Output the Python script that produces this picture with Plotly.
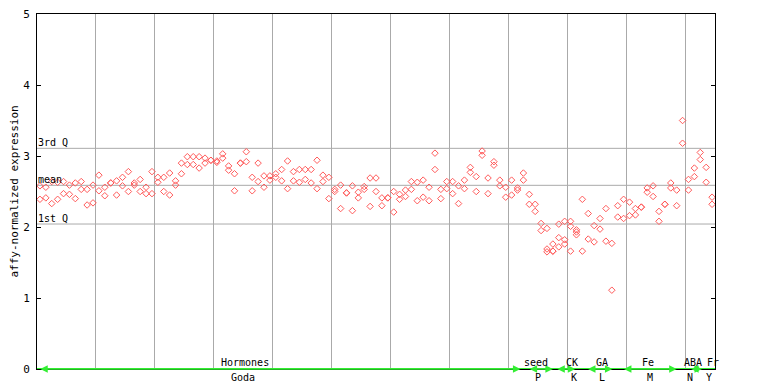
import plotly.graph_objects as go

# expression values per sample (two replicates, a third for some)
rep1 = [2.58, 2.56, 2.64, 2.63, 2.64, 2.59, 2.62, 2.64, 2.53, 2.59,
        2.73, 2.56, 2.62, 2.65, 2.70, 2.78, 2.62, 2.67, 2.56, 2.78,
        2.70, 2.70, 2.76, 2.65, 2.90, 2.99, 2.99, 2.99, 2.97, 2.94,
        2.93, 3.03, 2.86, 2.75, 2.90, 3.06, 2.70, 2.90, 2.72, 2.72,
        2.75, 2.81, 2.93, 2.78, 2.81, 2.81, 2.81, 2.94, 2.73, 2.70,
        2.53, 2.59, 2.48, 2.58, 2.49, 2.57, 2.69, 2.69, 2.41, 2.41,
        2.50, 2.46, 2.52, 2.64, 2.63, 2.66, 2.56, 3.04, 2.53, 2.64,
        2.64, 2.58, 2.66, 2.84, 2.71, 3.07, 2.69, 2.92, 2.66, 2.56,
        2.66, 2.55, 2.76, 2.46, 2.32, 2.05, 1.98, 1.76, 2.04, 2.08,
        2.08, 1.96, 2.39, 2.19, 2.02, 2.12, 2.26, 1.77, 2.30, 2.39,
        2.35, 2.26, 2.28, 2.55, 2.58, 2.22, 2.32, 2.62, 2.52, 3.50,
        2.67, 2.83, 3.05, 2.84, 2.42]
rep2 = [2.39, 2.41, 2.33, 2.39, 2.47, 2.46, 2.40, 2.53, 2.31, 2.34,
        2.51, 2.44, 2.62, 2.45, 2.58, 2.50, 2.59, 2.50, 2.47, 2.47,
        2.63, 2.50, 2.45, 2.59, 2.75, 2.88, 2.88, 2.83, 2.90, 2.94,
        2.91, 2.97, 2.80, 2.51, 2.90, 2.92, 2.51, 2.64, 2.56, 2.66,
        2.70, 2.65, 2.54, 2.65, 2.63, 2.67, 2.62, 2.54, 2.64, 2.40,
        2.50, 2.26, 2.48, 2.23, 2.41, 2.53, 2.29, 2.50, 2.30, 2.41,
        2.21, 2.39, 2.43, 2.53, 2.37, 2.42, 2.37, 2.81, 2.40, 2.54,
        2.47, 2.33, 2.54, 2.77, 2.50, 3.01, 2.47, 2.87, 2.58, 2.42,
        2.45, 2.52, 2.66, 2.32, 2.22, 1.95, 1.69, 1.66, 1.85, 1.82,
        2.01, 1.93, 1.66, 1.83, 1.79, 1.97, 1.80, 1.11, 2.14, 2.12,
        2.16, 2.17, 2.28, 2.49, 2.43, 2.08, 2.32, 2.55, 2.30, 3.18,
        2.52, 2.71, 2.95, 2.63, 2.32]
rep3_samples = [86, 87, 88, 89, 90, 91]
rep3 = [1.65, 1.66, 1.72, 1.76, 1.66, 1.89]

# summary lines
q3_value = 3.108
mean_value = 2.587
q1_value = 2.042

# experiment groups
group_top = ["Hormones", "seed", "CK", "GA", "Fe", "ABA", "Fr"]
group_bottom = ["Goda", "P", "K", "L", "M", "N", "Y"]
group_start = [0.3, 83.3, 88.0, 93.2, 99.3, 110.7, 113.9]
group_end = [82.0, 87.5, 91.3, 97.6, 108.5, 112.8, 114.8]
group_top_pos = [35.3, 84.7, 90.7, 95.8, 103.6, 111.2, 114.6]
group_bottom_pos = [34.9, 84.9, 91.0, 95.9, 103.9, 110.8, 113.9]

n = len(rep1)
xs = [i + 0.5 for i in range(n)]
FONT = "DejaVu Sans Mono"
RED = "#ff5a5a"

fig = go.Figure()
mk = dict(symbol="diamond-open", size=5, color=RED, line=dict(width=1, color=RED))
fig.add_trace(go.Scatter(x=xs, y=rep1, mode="markers", marker=mk, showlegend=False))
fig.add_trace(go.Scatter(x=xs, y=rep2, mode="markers", marker=mk, showlegend=False))
fig.add_trace(go.Scatter(x=[s + 0.5 for s in rep3_samples], y=rep3, mode="markers",
                         marker=mk, showlegend=False))

shapes = []
for v in (q3_value, mean_value, q1_value):
    shapes.append(dict(type="line", xref="paper", x0=0, x1=1, yref="y", y0=v, y1=v,
                       line=dict(color="#aaaaaa", width=1), layer="below"))
shapes.append(dict(type="line", xref="x", x0=0, x1=115, yref="y", y0=0, y1=0,
                   line=dict(color="#33ee33", width=2)))

annotations = []
for txt, yv in (("3rd Q", q3_value), ("mean", mean_value), ("1st Q", q1_value)):
    annotations.append(dict(x=0, xref="paper", y=yv, yref="y", text=txt, showarrow=False,
                            xanchor="left", yanchor="bottom", yshift=-1, borderpad=0,
                            font=dict(family=FONT, size=10, color="black")))
for t, b, s, e, tp, bp in zip(group_top, group_bottom, group_start, group_end,
                              group_top_pos, group_bottom_pos):
    annotations.append(dict(x=e, y=0, ax=s, ay=0, xref="x", yref="y", axref="x", ayref="y",
                            text="", showarrow=True, arrowside="end+start", arrowhead=2,
                            arrowsize=1, arrowwidth=1.5, arrowcolor="#33ee33"))
    annotations.append(dict(x=tp, y=0, xref="x", yref="y", text=t, showarrow=False,
                            yanchor="bottom", yshift=0, borderpad=0,
                            font=dict(family=FONT, size=10, color="black")))
    annotations.append(dict(x=bp, y=0, xref="x", yref="y", text=b, showarrow=False,
                            yanchor="top", yshift=-2, borderpad=0,
                            font=dict(family=FONT, size=10, color="black")))
annotations.append(dict(x=0, xref="paper", xshift=-23, xanchor="center", y=0.5, yref="paper",
                        yanchor="middle", text="affy-normalized expression", textangle=-90,
                        showarrow=False, borderpad=0,
                        font=dict(family=FONT, size=11, color="black")))

# the page adds an 8px body margin, so the figure is 8px smaller on each axis
fig.update_layout(
    width=760, height=376,
    margin=dict(l=29, r=53, t=6, b=15, autoexpand=False),
    paper_bgcolor="white", plot_bgcolor="white",
    shapes=shapes, annotations=annotations,
    xaxis=dict(range=[0, 115], tickvals=[10 * k for k in range(1, 12)], showticklabels=False,
               showgrid=True, gridcolor="#aaaaaa", gridwidth=1, zeroline=False,
               showline=True, linecolor="black", linewidth=1, mirror=True, ticks="",
               automargin=False),
    yaxis=dict(range=[0, 5], tickvals=[0, 1, 2, 3, 4, 5], showgrid=False, zeroline=False,
               showline=True, linecolor="black", linewidth=1, mirror="ticks", ticks="inside",
               ticklen=4, tickcolor="black", automargin=False, ticklabelstandoff=4,
               ticklabeloverflow="allow",
               tickfont=dict(family=FONT, size=11, color="black")),
)

fig.write_html("out.html")
